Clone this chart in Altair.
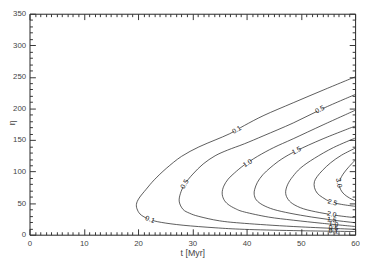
import altair as alt
import pandas as pd

# ---- contour lines (t [Myr], eta) ----
c01_t = [60, 54.1, 48.6, 43.2, 39.6, 36.9, 34.2, 31.2, 28.0, 25.2, 23.0, 21.5, 20.2, 19.7, 19.9, 20.6, 22.2, 24.3, 28.3, 34.2, 39.6, 48.6, 60]
c01_e = [250, 229, 209, 189, 173, 160, 150, 139, 124, 105, 87, 72, 58, 48, 39, 31, 24, 19.5, 15, 11, 8.5, 6.5, 5]

c05_t = [60, 54.1, 48.6, 43.2, 39.6, 36.5, 34.2, 32.0, 30.1, 28.6, 27.8, 27.6, 28.3, 29.5, 31.2, 35.0, 39.6, 48.6, 60]
c05_e = [222, 200, 177, 157, 144, 134, 125, 112, 96, 80, 65, 52, 40, 34, 29, 22, 18, 13, 8.5]

c10_t = [60, 54.1, 48.6, 45.0, 42.0, 39.5, 37.8, 36.6, 35.8, 35.5, 35.8, 36.6, 38.0, 39.6, 44.0, 48.6, 54.0, 60]
c10_e = [197, 174, 152, 138, 124, 110, 98, 88, 77, 66, 56, 48, 41, 36, 28, 23, 18, 13]

c15_t = [60, 54.1, 49.2, 46.5, 44.5, 43.0, 42.0, 41.5, 41.4, 41.8, 43.0, 45.0, 48.0, 52.0, 56.0, 60]
c15_e = [172, 152, 133, 120, 107, 95, 83, 72, 64, 55, 47, 40, 34, 28, 23, 19]

c20_t = [60, 56.0, 52.5, 50.0, 48.5, 47.6, 47.2, 47.5, 48.5, 50.5, 53.5, 57.0, 60]
c20_e = [153, 138, 121, 106, 92, 80, 68, 58, 49, 41, 35, 30, 27]

c25_t = [60, 57.5, 55.5, 54.0, 53.0, 52.5, 52.5, 53.0, 54.0, 55.5, 57.5, 60]
c25_e = [137, 126, 114, 102, 92, 84, 75, 66, 59, 52, 48, 45]

c30_t = [60, 58.5, 57.5, 57.1, 57.3, 58.0, 59.0, 60]
c30_e = [118, 104, 92, 82, 72, 64, 58, 54]

levels = ["0.1", "0.5", "1.0", "1.5", "2.0", "2.5", "3.0"]
curves_t = [c01_t, c05_t, c10_t, c15_t, c20_t, c25_t, c30_t]
curves_e = [c01_e, c05_e, c10_e, c15_e, c20_e, c25_e, c30_e]

# ---- contour labels ----
lab_text = ["0.1", "0.5", "0.5", "1.0", "1.5", "3.0", "0.1", "2.5", "2.0", "1.5", "1.0", "0.5", "0.1"]
lab_t = [38.2, 53.5, 28.6, 40.2, 49.2, 57.0, 22.2, 55.8, 55.7, 55.7, 56.0, 56.0, 56.0]
lab_e = [166, 198, 80, 113, 133, 82, 24, 51, 32, 23.5, 16.3, 10.1, 5.6]
lab_angle = [330, 334, 300, 327, 333, 80, 20, 15, 10, 8, 6, 4, 3]

# axis tick values
x_major = [0, 10, 20, 30, 40, 50, 60]
x_all = list(range(0, 61))
y_major = [0, 50, 100, 150, 200, 250, 300, 350]
y_all = list(range(0, 351, 10))

rows = []
for lev, ts, es in zip(levels, curves_t, curves_e):
    for i, (t, e) in enumerate(zip(ts, es)):
        rows.append({"level": lev, "i": i, "t": t, "eta": e})
df = pd.DataFrame(rows)

labels = pd.DataFrame({"text": lab_text, "t": lab_t, "eta": lab_e,
                       "angle": lab_angle, "k": list(range(len(lab_text)))})

W, H = 333, 226
FONT = "Liberation Sans"
xs = alt.Scale(domain=[0, 60], nice=False, zero=False)
ys = alt.Scale(domain=[0, 350], nice=False, zero=False)

tsx = {"condition": {"test": "datum.value % 10 === 0", "value": 6}, "value": 3}
tsy = {"condition": {"test": "datum.value % 50 === 0", "value": 6}, "value": 3}

def tick_axis(vals, orient, offset, ts):
    return alt.Axis(values=vals, orient=orient, offset=offset, labels=False, domain=False,
                    grid=False, tickSize=ts, tickColor="#333", tickWidth=1, title=None)

ax_x_lab = alt.Axis(values=x_major, orient="bottom", ticks=False, tickSize=0, domain=False,
                    grid=False, labelFlush=False, labelPadding=5, labelFont=FONT,
                    labelFontSize=8, labelColor="#444", title="t [Myr]", titleFont=FONT,
                    titleFontSize=9, titleFontWeight="normal", titleColor="#444",
                    titleY=21, titleBaseline="alphabetic")
ax_y_lab = alt.Axis(values=y_major, orient="left", ticks=False, tickSize=0, domain=False,
                    grid=False, labelFlush=False, labelPadding=4, labelFont=FONT,
                    labelFontSize=8, labelColor="#444", title="η", titleFont=FONT,
                    titleFontSize=9, titleFontWeight="normal", titleColor="#444",
                    titleAngle=270, titleX=-22, titleY=H / 2 - 2, titleBaseline="top",
                    titleAlign="center")

lines = alt.Chart(df).mark_line(color="#222", strokeWidth=0.75, interpolate="cardinal").encode(
    x=alt.X("t:Q", scale=xs, axis=ax_x_lab),
    y=alt.Y("eta:Q", scale=ys, axis=ax_y_lab),
    detail="level:N",
    order="i:Q",
)

masks = alt.Chart(labels).transform_filter("datum.k < 9").mark_point(
    shape="M-1,-0.42L1,-0.42L1,0.42L-1,0.42Z", filled=True, color="white", fill="white",
    stroke="white", strokeWidth=0, opacity=1, size=36
).encode(
    x=alt.X("t:Q", scale=xs, axis=tick_axis(x_all, "top", -H, tsx)),
    y=alt.Y("eta:Q", scale=ys, axis=tick_axis(y_all, "right", -W, tsy)),
    angle=alt.Angle("angle:Q", scale=None),
)

texts = alt.Chart(labels).mark_text(font=FONT, fontSize=7, color="#111", fill="#111").encode(
    x=alt.X("t:Q", scale=xs, axis=tick_axis(x_all, "bottom", -H, tsx)),
    y=alt.Y("eta:Q", scale=ys, axis=tick_axis(y_all, "left", -W, tsy)),
    text="text:N",
    angle=alt.Angle("angle:Q", scale=None),
)

chart = alt.layer(lines, masks, texts).resolve_axis(
    x="independent", y="independent"
).properties(
    width=W, height=H,
    padding={"left": 22, "top": 3, "right": 5, "bottom": 23},
    autosize=alt.AutoSizeParams(type="none"),
).configure_view(stroke="#222", strokeWidth=1)

chart.save("out.html", embed_options={"renderer": "svg", "actions": False})
